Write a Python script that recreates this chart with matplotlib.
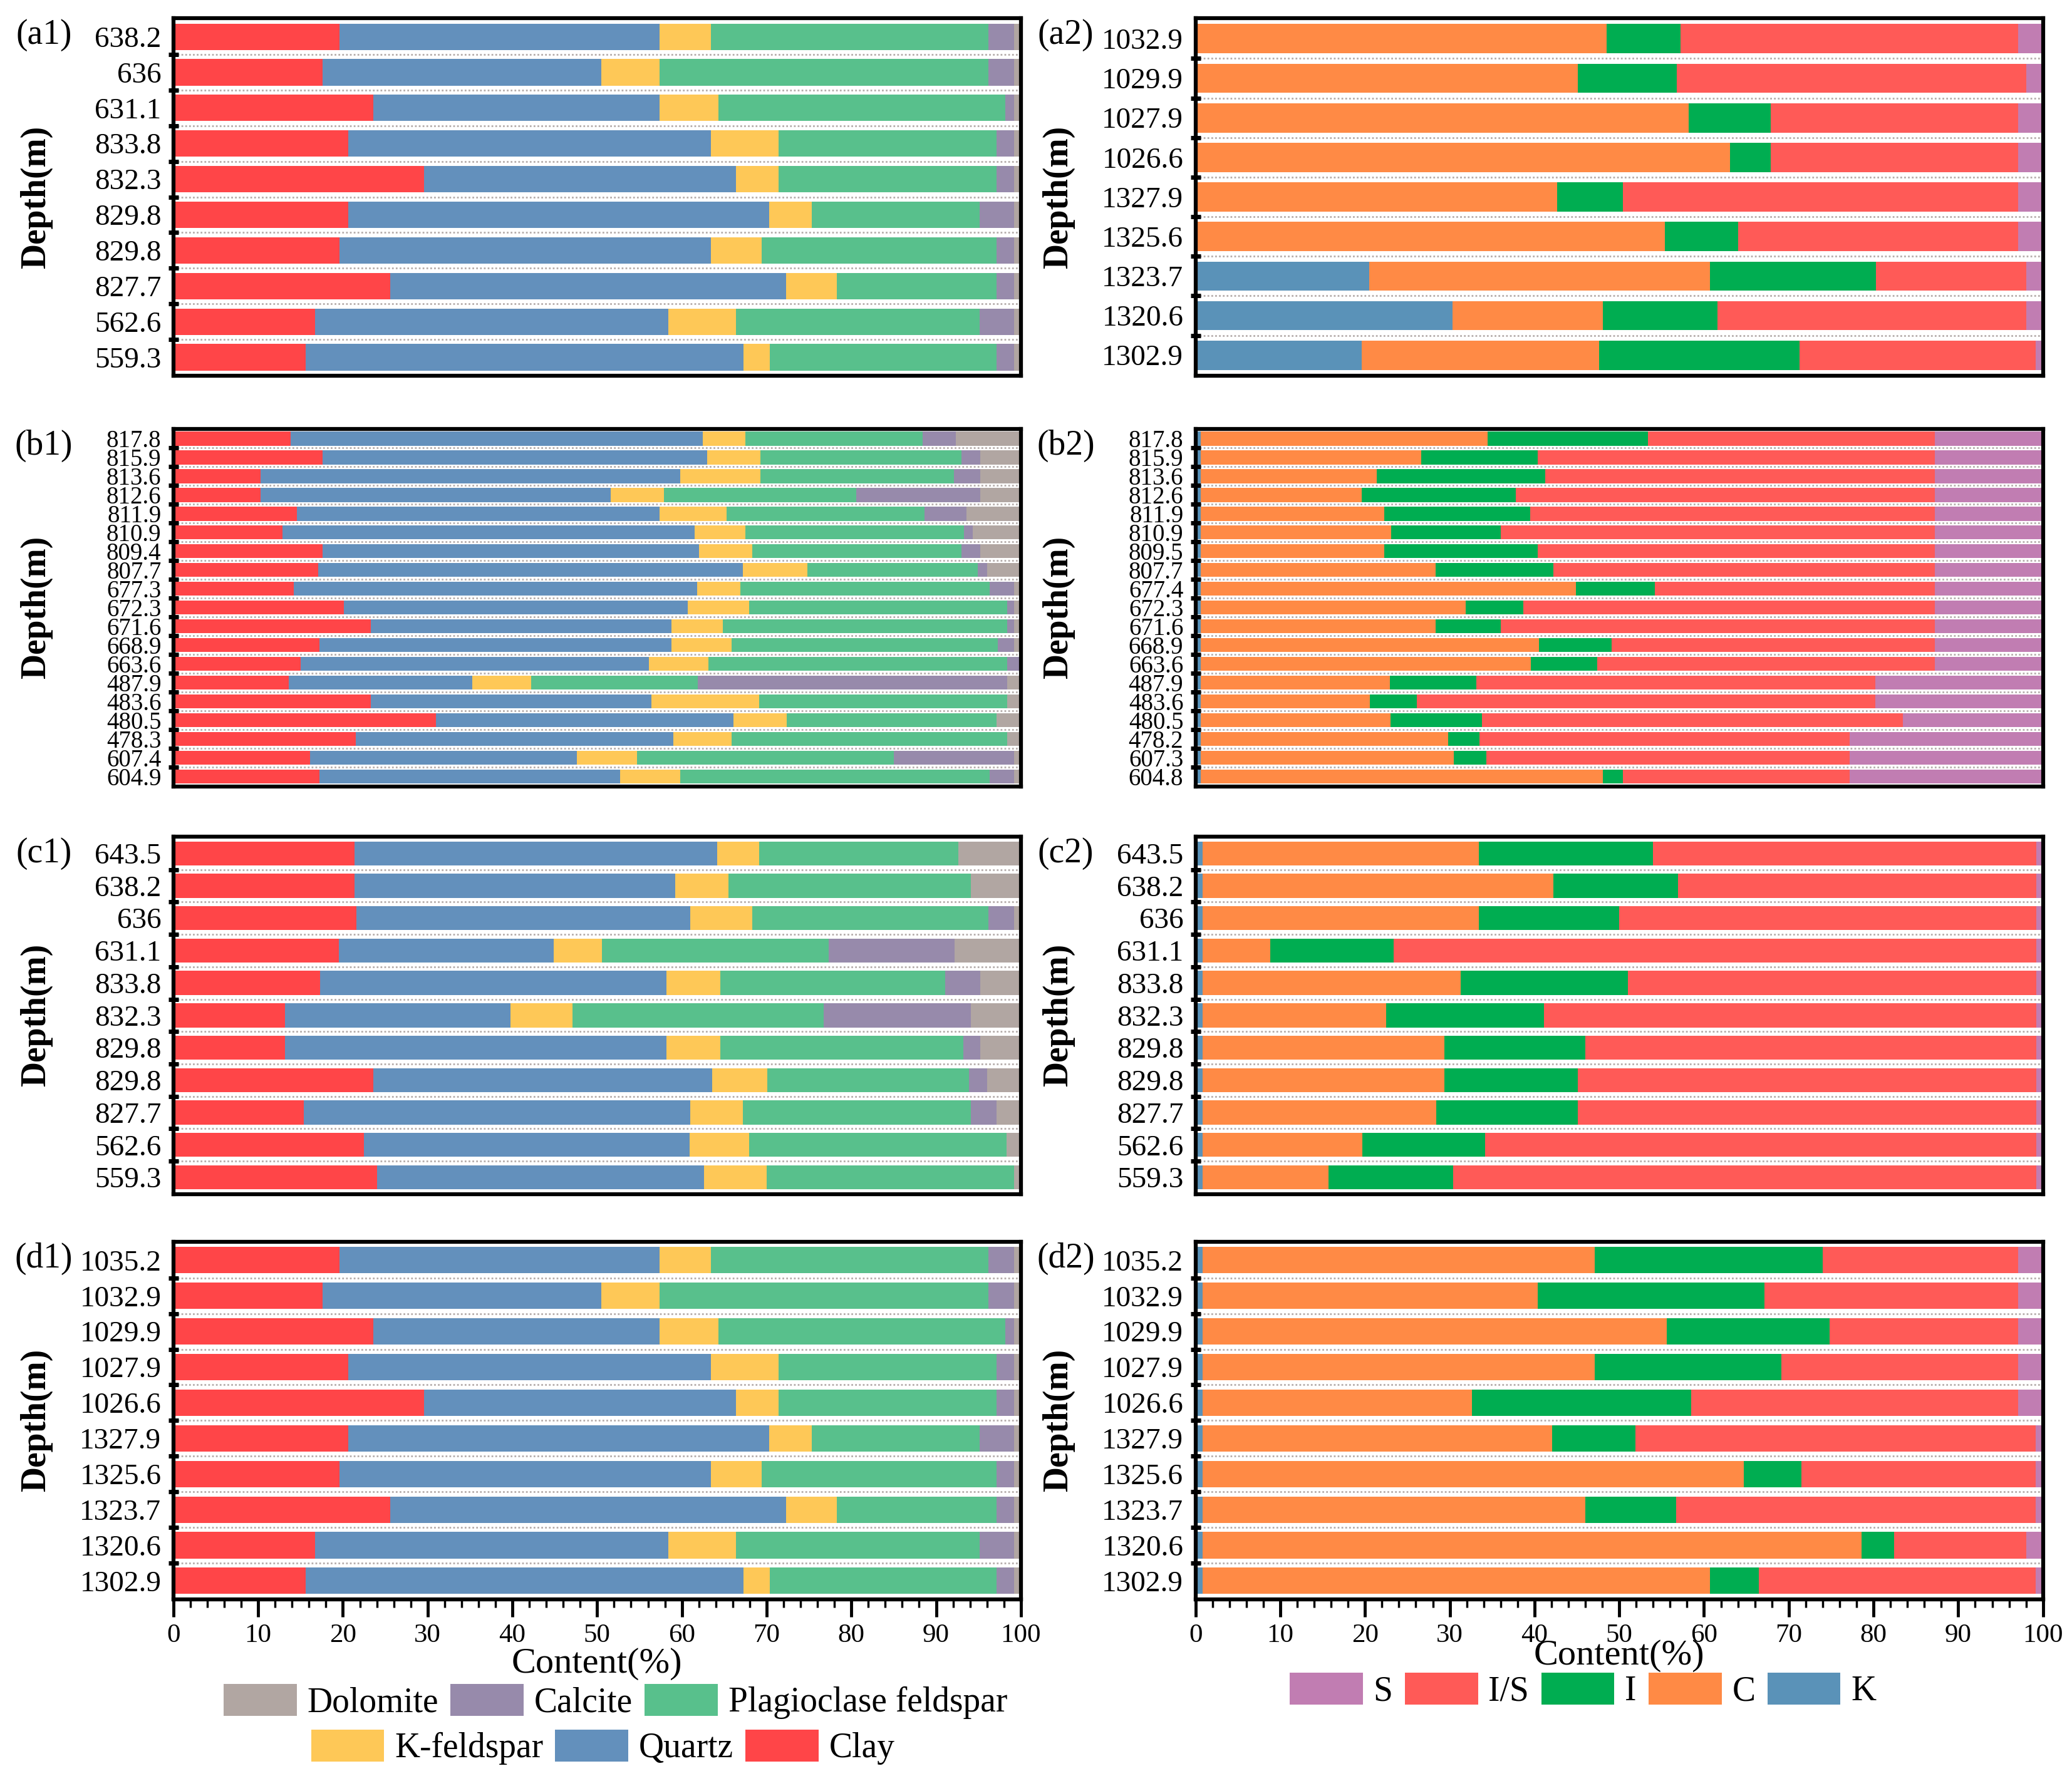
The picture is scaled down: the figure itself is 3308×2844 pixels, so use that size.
import matplotlib
matplotlib.use("Agg")
import matplotlib.pyplot as plt
from matplotlib.patches import Patch
from matplotlib.ticker import FixedLocator, MultipleLocator

plt.rcParams['font.family'] = ['Liberation Serif', 'DejaVu Serif']

# --- series names and colours (stack order, left to right) ---
rock_names = ['Clay', 'Quartz', 'K-feldspar', 'Plagioclase feldspar', 'Calcite', 'Dolomite']
rock_colors = ['#ff4548', '#6390bc', '#fec857', '#58c08c', '#978aab', '#b1a6a2']

clay_names = ['K', 'C', 'I', 'I/S', 'S']
clay_colors = ['#5a92b8', '#ff8a45', '#00ad51', '#ff5a57', '#c17db2']

# --- (a1) whole rock, % : Clay, Quartz, K-feldspar, Plagioclase, Calcite, Dolomite ---
a1_depths = ['638.2', '636', '631.1', '833.8', '832.3', '829.8', '829.8', '827.7', '562.6', '559.3']
a1_rows = [
    [19.6, 37.8, 6.0, 32.8, 3.0, 0.8],
    [17.6, 32.9, 6.9, 38.8, 3.0, 0.8],
    [23.6, 33.8, 6.9, 33.9, 1.0, 0.8],
    [20.6, 42.8, 8.0, 25.7, 2.1, 0.8],
    [29.6, 36.8, 5.0, 25.7, 2.1, 0.8],
    [20.6, 49.7, 5.0, 19.8, 4.1, 0.8],
    [19.6, 43.8, 6.0, 27.7, 2.1, 0.8],
    [25.6, 46.7, 6.0, 18.8, 2.1, 0.8],
    [16.7, 41.7, 8.0, 28.7, 4.1, 0.8],
    [15.6, 51.7, 3.1, 26.7, 2.1, 0.8],
]

# --- (b1) ---
b1_depths = ['817.8', '815.9', '813.6', '812.6', '811.9', '810.9', '809.4', '807.7', '677.3', '672.3',
             '671.6', '668.9', '663.6', '487.9', '483.6', '480.5', '478.3', '607.4', '604.9']
b1_rows = [
    [13.8, 48.7, 5.0, 20.9, 3.9, 7.7],
    [17.6, 45.4, 6.3, 23.7, 2.2, 4.8],
    [10.3, 49.5, 9.5, 22.8, 3.1, 4.8],
    [10.3, 41.3, 6.3, 22.7, 14.6, 4.8],
    [14.6, 42.8, 7.9, 23.3, 5.0, 6.4],
    [12.9, 48.6, 6.0, 25.8, 1.0, 5.7],
    [17.6, 44.4, 6.3, 24.7, 2.2, 4.8],
    [17.1, 50.1, 7.6, 20.1, 1.1, 4.0],
    [14.2, 47.6, 5.1, 29.4, 2.9, 0.8],
    [20.1, 40.6, 7.2, 30.5, 0.8, 0.8],
    [23.3, 35.5, 6.0, 33.6, 0.8, 0.8],
    [17.2, 41.6, 7.1, 31.4, 1.9, 0.8],
    [15.0, 41.1, 7.0, 35.3, 1.6, 0.0],
    [13.6, 21.7, 6.9, 19.7, 36.5, 1.6],
    [23.3, 33.1, 12.7, 29.3, 0.0, 1.6],
    [31.0, 35.1, 6.3, 24.7, 0.0, 2.9],
    [21.5, 37.5, 6.9, 32.5, 0.0, 1.6],
    [16.1, 31.5, 7.1, 30.3, 14.2, 0.8],
    [17.2, 35.5, 7.1, 36.5, 2.9, 0.8],
]

# --- (c1) ---
c1_depths = ['643.5', '638.2', '636', '631.1', '833.8', '832.3', '829.8', '829.8', '827.7', '562.6', '559.3']
c1_rows = [
    [21.4, 42.8, 4.9, 23.5, 0.0, 7.4],
    [21.4, 37.8, 6.3, 28.6, 0.0, 5.9],
    [21.6, 39.4, 7.3, 27.9, 3.0, 0.8],
    [19.5, 25.4, 5.7, 26.7, 14.9, 7.8],
    [17.3, 40.9, 6.3, 26.6, 4.1, 4.8],
    [13.2, 26.6, 7.3, 29.6, 17.4, 5.9],
    [13.2, 45.0, 6.3, 28.7, 2.0, 4.8],
    [23.6, 40.0, 6.5, 23.8, 2.1, 4.0],
    [15.4, 45.6, 6.2, 26.9, 3.0, 2.9],
    [22.5, 38.4, 7.0, 30.4, 0.0, 1.7],
    [24.0, 38.6, 7.4, 29.2, 0.0, 0.8],
]

# --- (d1) same bars as (a1) in the source figure ---
d1_depths = ['1035.2', '1032.9', '1029.9', '1027.9', '1026.6', '1327.9', '1325.6', '1323.7', '1320.6', '1302.9']
d1_rows = a1_rows

# --- (a2) clay minerals, % : K, C, I, I/S, S ---
a2_depths = ['1032.9', '1029.9', '1027.9', '1026.6', '1327.9', '1325.6', '1323.7', '1320.6', '1302.9']
a2_rows = [
    [0.0, 48.5, 8.7, 39.9, 2.9],
    [0.0, 45.1, 11.7, 41.2, 2.0],
    [0.0, 58.2, 9.7, 29.2, 2.9],
    [0.0, 63.1, 4.8, 29.2, 2.9],
    [0.0, 42.7, 7.7, 46.7, 2.9],
    [0.0, 55.4, 8.6, 33.1, 2.9],
    [20.5, 40.2, 19.6, 17.7, 2.0],
    [30.3, 17.8, 13.5, 36.4, 2.0],
    [19.6, 28.0, 23.7, 27.8, 0.9],
]

# --- (b2) ---
b2_depths = ['817.8', '815.9', '813.6', '812.6', '811.9', '810.9', '809.5', '807.7', '677.4', '672.3',
             '671.6', '668.9', '663.6', '487.9', '483.6', '480.5', '478.2', '607.3', '604.8']
b2_rows = [
    [0.6, 33.9, 18.9, 33.8, 12.8],
    [0.6, 26.0, 13.8, 46.8, 12.8],
    [0.6, 20.8, 19.9, 45.9, 12.8],
    [0.6, 19.0, 18.2, 49.4, 12.8],
    [0.6, 21.7, 17.2, 47.7, 12.8],
    [0.6, 22.5, 12.9, 51.2, 12.8],
    [0.6, 21.7, 18.1, 46.8, 12.8],
    [0.6, 27.7, 13.9, 45.0, 12.8],
    [0.6, 44.3, 9.3, 33.0, 12.8],
    [0.6, 31.3, 6.8, 48.5, 12.8],
    [0.6, 27.7, 7.7, 51.2, 12.8],
    [0.6, 39.9, 8.6, 38.1, 12.8],
    [0.6, 39.0, 7.8, 39.8, 12.8],
    [0.6, 22.3, 10.2, 47.1, 19.8],
    [0.6, 20.0, 5.5, 54.1, 19.8],
    [0.6, 22.4, 10.8, 49.7, 16.5],
    [0.6, 29.2, 3.7, 43.7, 22.8],
    [0.6, 29.9, 3.8, 42.9, 22.8],
    [0.6, 47.5, 2.3, 26.8, 22.8],
]

# --- (c2) ---
c2_depths = ['643.5', '638.2', '636', '631.1', '833.8', '832.3', '829.8', '829.8', '827.7', '562.6', '559.3']
c2_rows = [
    [0.8, 32.6, 20.6, 45.2, 0.8],
    [0.8, 41.4, 14.7, 42.3, 0.8],
    [0.8, 32.6, 16.6, 49.2, 0.8],
    [0.8, 8.0, 14.6, 75.8, 0.8],
    [0.8, 30.5, 19.7, 48.2, 0.8],
    [0.8, 21.7, 18.6, 58.1, 0.8],
    [0.8, 28.6, 16.6, 53.2, 0.8],
    [0.8, 28.6, 15.7, 54.1, 0.8],
    [0.8, 27.6, 16.7, 54.1, 0.8],
    [0.8, 18.9, 14.5, 65.0, 0.8],
    [0.8, 14.9, 14.7, 68.8, 0.8],
]

# --- (d2) ---
d2_depths = ['1035.2', '1032.9', '1029.9', '1027.9', '1026.6', '1327.9', '1325.6', '1323.7', '1320.6', '1302.9']
d2_rows = [
    [0.8, 46.3, 26.9, 23.1, 2.9],
    [0.8, 39.6, 26.7, 30.0, 2.9],
    [0.8, 54.8, 19.2, 22.3, 2.9],
    [0.8, 46.3, 22.0, 28.0, 2.9],
    [0.8, 31.8, 25.9, 38.6, 2.9],
    [0.8, 41.3, 9.8, 47.2, 0.9],
    [0.8, 63.9, 6.8, 27.6, 0.9],
    [0.8, 45.2, 10.7, 42.4, 0.9],
    [0.8, 77.8, 3.8, 15.6, 2.0],
    [0.8, 59.9, 5.8, 32.6, 0.9],
]


def draw_panel(ax, depths, rows, colors, tag, tick_size, bottom_row):
    n = len(depths)
    ypos = list(range(n))

    # stacked horizontal bars, one segment per component
    left = [0.0] * n
    for j, col in enumerate(colors):
        widths = [r[j] for r in rows]
        ax.barh(ypos, widths, left=left, height=0.74, color=col,
                edgecolor='none', zorder=2)
        left = [a + b for a, b in zip(left, widths)]

    ax.set_xlim(0, 100)
    ax.set_ylim(n - 0.48, -0.52)

    # depth labels in the rows, short black ticks on the row boundaries
    ax.set_yticks(ypos)
    ax.set_yticklabels(depths, fontsize=tick_size)
    ax.yaxis.set_minor_locator(FixedLocator([k + 0.5 for k in range(n - 1)]))
    ax.tick_params(axis='y', which='major', length=0, pad=14)
    ax.tick_params(axis='y', which='minor', direction='inout', length=12,
                   width=5, color='black')
    ax.grid(axis='y', which='minor', linestyle=(0, (1, 1.2)),
            color='#b5adab', linewidth=2)
    ax.set_axisbelow(True)

    for sp in ax.spines.values():
        sp.set_linewidth(4.5)
        sp.set_color('black')

    if bottom_row:
        ax.xaxis.set_major_locator(MultipleLocator(10))
        ax.xaxis.set_minor_locator(MultipleLocator(2))
        ax.tick_params(axis='x', which='major', direction='out', length=20,
                       width=3.5, labelsize=31, pad=8)
        ax.tick_params(axis='x', which='minor', direction='out', length=9,
                       width=2.5)
    else:
        ax.tick_params(axis='x', which='both', bottom=False, labelbottom=False)

    ax.text(-0.162, 0.5, 'Depth(m)', transform=ax.transAxes, rotation=90,
            ha='center', va='center', fontsize=40, fontweight='bold')
    ax.text(-0.153, 0.952, tag, transform=ax.transAxes, ha='center',
            va='center', fontsize=40)


fig = plt.figure(figsize=(33.08, 28.44), dpi=100)

col_left = [0.0837, 0.577]
col_width = 0.409
row_bottom = [0.789, 0.5584, 0.3295, 0.102]
row_height = 0.2008

panels = [
    (a1_depths, a1_rows, rock_colors, '(a1)', 34, 0, 0),
    (b1_depths, b1_rows, rock_colors, '(b1)', 28, 0, 1),
    (c1_depths, c1_rows, rock_colors, '(c1)', 34, 0, 2),
    (d1_depths, d1_rows, rock_colors, '(d1)', 34, 0, 3),
    (a2_depths, a2_rows, clay_colors, '(a2)', 34, 1, 0),
    (b2_depths, b2_rows, clay_colors, '(b2)', 28, 1, 1),
    (c2_depths, c2_rows, clay_colors, '(c2)', 34, 1, 2),
    (d2_depths, d2_rows, clay_colors, '(d2)', 34, 1, 3),
]

for depths, rows, colors, tag, fs, col, row in panels:
    ax = fig.add_axes([col_left[col], row_bottom[row], col_width, row_height])
    draw_panel(ax, depths, rows, colors, tag, fs, row == 3)
    if row == 3:
        ax.set_xlabel('Content(%)', fontsize=42)
        ax.xaxis.set_label_coords(0.5, -0.135 if col == 0 else -0.112)

# --- legends ---
rock_handles = {n: Patch(facecolor=c, edgecolor='none') for n, c in zip(rock_names, rock_colors)}
leg_kw = dict(loc='center', frameon=False, fontsize=40, handlelength=2.1,
              handleheight=1.05, handletextpad=0.3, columnspacing=0.35)

row1 = ['Dolomite', 'Calcite', 'Plagioclase feldspar']
row2 = ['K-feldspar', 'Quartz', 'Clay']
fig.legend([rock_handles[n] for n in row1], row1, ncol=3,
           bbox_to_anchor=(0.297, 0.0447), **leg_kw)
fig.legend([rock_handles[n] for n in row2], row2, ncol=3,
           bbox_to_anchor=(0.291, 0.019), **leg_kw)

clay_order = ['S', 'I/S', 'I', 'C', 'K']
clay_handles = {n: Patch(facecolor=c, edgecolor='none') for n, c in zip(clay_names, clay_colors)}
fig.legend([clay_handles[n] for n in clay_order], clay_order, ncol=5,
           bbox_to_anchor=(0.764, 0.051), **leg_kw)

plt.savefig('out.png', dpi=100)
